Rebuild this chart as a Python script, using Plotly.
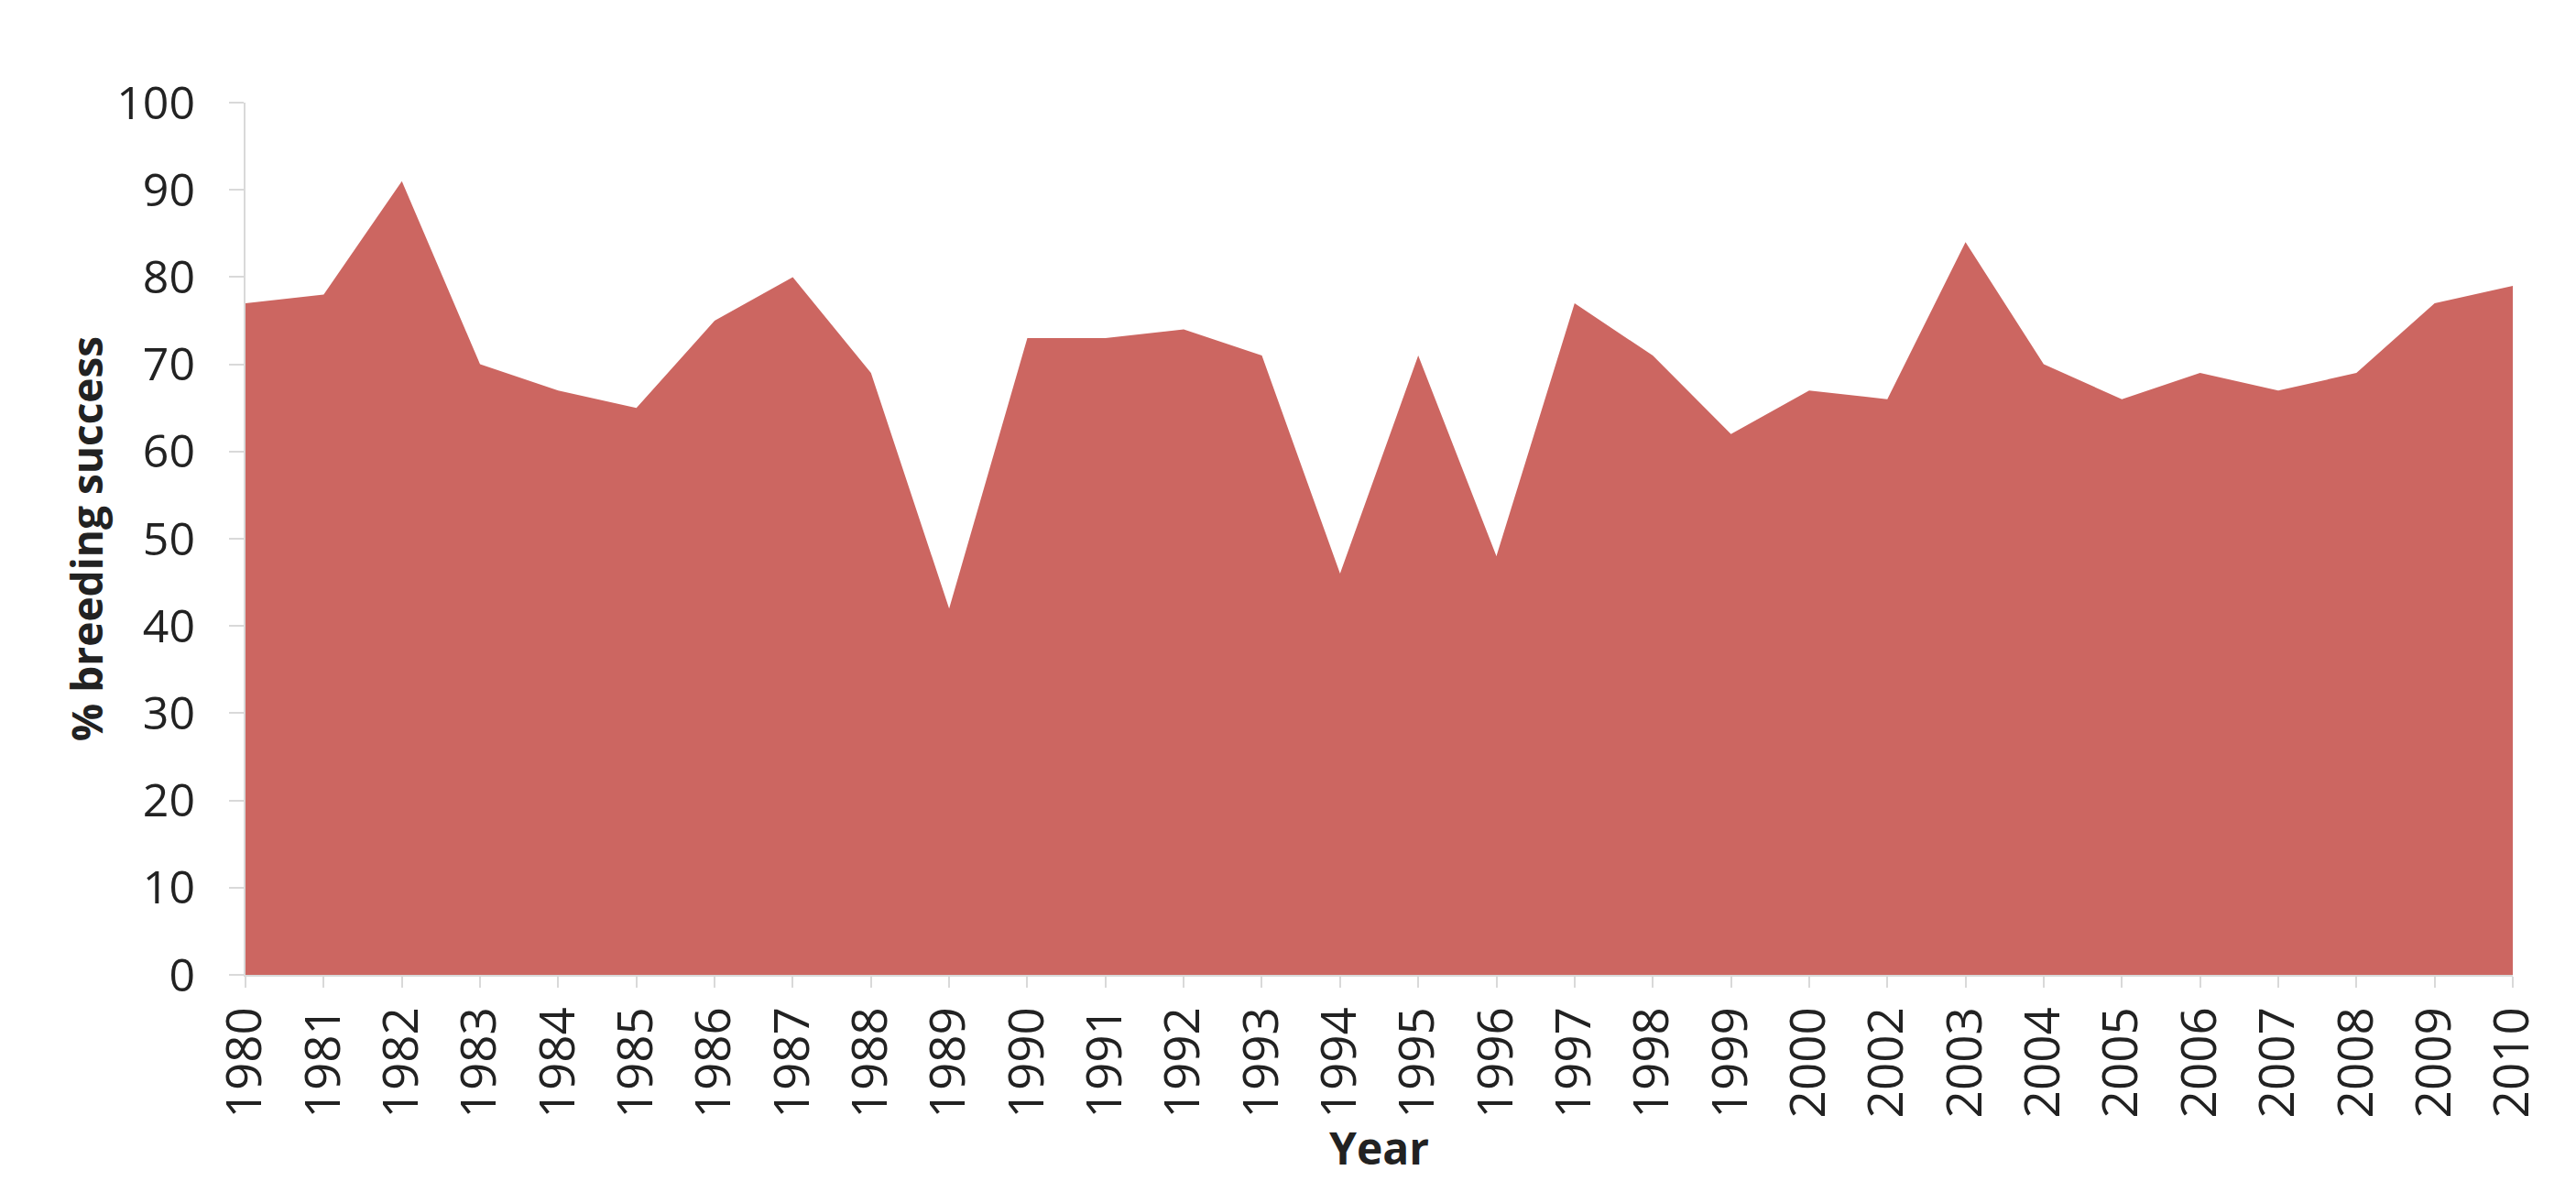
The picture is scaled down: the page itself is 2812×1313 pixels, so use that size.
import plotly.graph_objects as go

# Years on the x axis (2001 is not in the series)
years = ["1980", "1981", "1982", "1983", "1984", "1985", "1986", "1987", "1988", "1989",
         "1990", "1991", "1992", "1993", "1994", "1995", "1996", "1997", "1998", "1999",
         "2000", "2002", "2003", "2004", "2005", "2006", "2007", "2008", "2009", "2010"]
# % breeding success
success = [77, 78, 91, 70, 67, 65, 75, 80, 69, 42,
           73, 73, 74, 71, 46, 71, 48, 77, 71, 62,
           67, 66, 84, 70, 66, 69, 67, 69, 77, 79]

fill_col = "rgb(204,102,97)"
axis_col = "#d9d9d9"
font_name = "Open Sans"

fig = go.Figure()
fig.add_trace(go.Scatter(x=years, y=success, mode="lines", fill="tozeroy",
                         fillcolor=fill_col, line=dict(width=0, color=fill_col),
                         showlegend=False))

fig.update_layout(
  width=2812, height=1313,
  margin=dict(l=260, r=77, t=104, b=257),
  paper_bgcolor="white", plot_bgcolor="white",
  font=dict(family=font_name, color="#222222"),
  xaxis=dict(
    type="category", range=[0, len(years) - 1],
    tickangle=-90, tickfont=dict(size=53),
    ticks="outside", ticklen=12, tickcolor=axis_col, tickwidth=2,
    showline=True, linecolor=axis_col, linewidth=2,
    showgrid=False, zeroline=False,
    title=dict(text="<b>Year</b>", font=dict(size=48), standoff=10)),
  yaxis=dict(
    range=[0, 100], dtick=10, tickfont=dict(size=50),
    ticks="outside", ticklen=16, tickcolor=axis_col, tickwidth=2,
    ticklabelstandoff=27,
    showline=True, linecolor=axis_col, linewidth=2,
    showgrid=False, zeroline=False,
    title=dict(text="<b>% breeding success</b>", font=dict(size=46), standoff=0)))

fig.write_html("out.html")
